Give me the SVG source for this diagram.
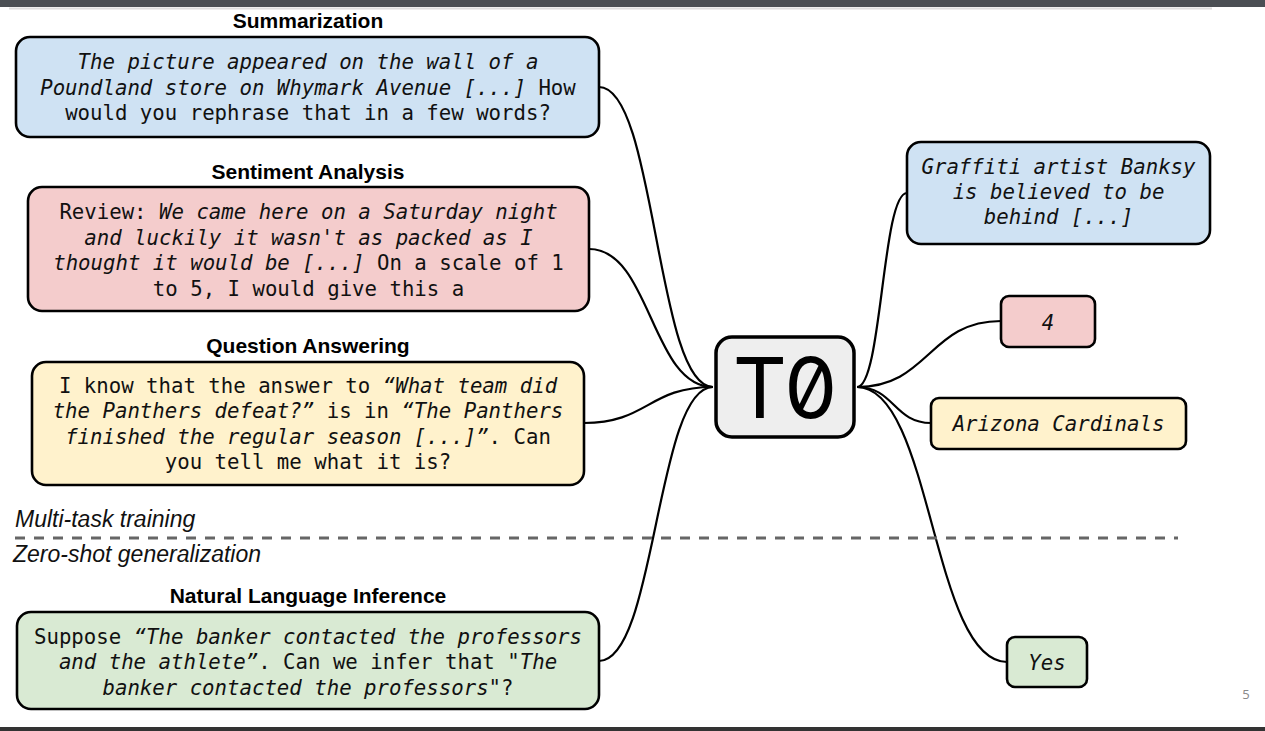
<svg xmlns="http://www.w3.org/2000/svg" width="1265" height="731" viewBox="0 0 1265 731">
<style>
.box{stroke:#000;stroke-width:2.6}
.title{font-family:"Liberation Sans",Arial,sans-serif;font-weight:bold;font-size:21px;fill:#000;text-anchor:middle}
.body{font-family:"DejaVu Sans Mono","Liberation Mono",monospace;font-size:20.7px;fill:#111;text-anchor:middle}
.it{font-style:italic}
.phase{font-family:"Liberation Sans",Arial,sans-serif;font-style:italic;font-size:23px;fill:#111}
.conn path{fill:none;stroke:#000;stroke-width:2.2}
</style>
<rect x="0" y="0" width="1265" height="731" fill="#fff"/>
<rect x="0" y="0" width="1265" height="7" fill="#4b4f54"/>
<rect x="9" y="7.5" width="1203" height="2" fill="#dedede"/>
<rect x="0" y="727" width="1265" height="4" fill="#333"/>

<g id="connectors" class="conn">
<path d="M599,87 C656,87 656,387 713,387"/>
<path d="M589,249 C651,249 651,387 713,387"/>
<path d="M584,423 C648,423 648,387 713,387"/>
<path d="M599,661 C656,661 656,387 713,387"/>
<path d="M857,387 C882,387 882,193 907,193"/>
<path d="M857,387 C929,387 929,321 1001,321"/>
<path d="M857,387 C894,387 894,423 931,423"/>
<path d="M857,387 C932,387 932,662 1007,662"/>
</g>

<line x1="15" y1="538" x2="1178" y2="538" stroke="#666" stroke-width="3" stroke-dasharray="10 9"/>
<text class="phase" x="15" y="527">Multi-task training</text>
<text class="phase" x="13" y="562">Zero-shot generalization</text>

<g id="summarization">
<text class="title" x="308" y="28">Summarization</text>
<rect class="box" x="16" y="37" width="583" height="100" rx="14" fill="#cfe2f3"/>
<text class="body" x="308" y="69"><tspan class="it">The picture appeared on the wall of a</tspan></text>
<text class="body" x="308" y="95"><tspan class="it">Poundland store on Whymark Avenue [...]</tspan> How</text>
<text class="body" x="308" y="120">would you rephrase that in a few words?</text>
</g>

<g id="sentiment">
<text class="title" x="308" y="179">Sentiment Analysis</text>
<rect class="box" x="28" y="187" width="561" height="124" rx="14" fill="#f4cccc"/>
<text class="body" x="308.5" y="219">Review: <tspan class="it">We came here on a Saturday night</tspan></text>
<text class="body" x="308.5" y="245"><tspan class="it">and luckily it wasn't as packed as I</tspan></text>
<text class="body" x="308.5" y="270"><tspan class="it">thought it would be [...]</tspan> On a scale of 1</text>
<text class="body" x="308.5" y="296">to 5, I would give this a</text>
</g>

<g id="qa">
<text class="title" x="308" y="353">Question Answering</text>
<rect class="box" x="32" y="362" width="552" height="123" rx="14" fill="#fff2cc"/>
<text class="body" x="308" y="393">I know that the answer to <tspan class="it">“What team did</tspan></text>
<text class="body" x="308" y="418"><tspan class="it">the Panthers defeat?”</tspan> is in <tspan class="it">“The Panthers</tspan></text>
<text class="body" x="308" y="444"><tspan class="it">finished the regular season [...]”</tspan>. Can</text>
<text class="body" x="308" y="469">you tell me what it is?</text>
</g>

<g id="nli">
<text class="title" x="308" y="603">Natural Language Inference</text>
<rect class="box" x="17" y="612" width="582" height="97" rx="14" fill="#d9ead3"/>
<text class="body" x="308" y="644">Suppose <tspan class="it">“The banker contacted the professors</tspan></text>
<text class="body" x="308" y="669"><tspan class="it">and the athlete”</tspan>. Can we infer that "<tspan class="it">The</tspan></text>
<text class="body" x="308" y="695"><tspan class="it">banker contacted the professors</tspan>"?</text>
</g>

<g id="t0">
<rect x="716" y="337" width="138" height="100" rx="16" fill="#eeeeee" stroke="#000" stroke-width="3.5"/>
<text x="785" y="418" font-family="Inter,'DejaVu Sans',sans-serif" font-size="84" text-anchor="middle" fill="#000" style="font-variant-numeric:slashed-zero;font-feature-settings:'zero' 1">T0</text>
</g>

<g id="out-summary">
<rect class="box" x="907" y="142" width="303" height="102" rx="14" fill="#cfe2f3"/>
<text class="body it" x="1058.5" y="174">Graffiti artist Banksy</text>
<text class="body it" x="1058.5" y="199">is believed to be</text>
<text class="body it" x="1058.5" y="224">behind [...]</text>
</g>

<g id="out-sentiment">
<rect class="box" x="1001" y="296" width="94" height="51" rx="8" fill="#f4cccc"/>
<text class="body it" x="1048" y="330">4</text>
</g>

<g id="out-qa">
<rect class="box" x="931" y="398" width="255" height="51" rx="8" fill="#fff2cc"/>
<text class="body it" x="1058.5" y="431">Arizona Cardinals</text>
</g>

<g id="out-nli">
<rect class="box" x="1007" y="637" width="80" height="50" rx="8" fill="#d9ead3"/>
<text class="body it" x="1047" y="670">Yes</text>
</g>

<text x="1246" y="699" font-family="'Open Sans','DejaVu Sans',sans-serif" font-size="13" fill="#888" text-anchor="middle">5</text>
</svg>
